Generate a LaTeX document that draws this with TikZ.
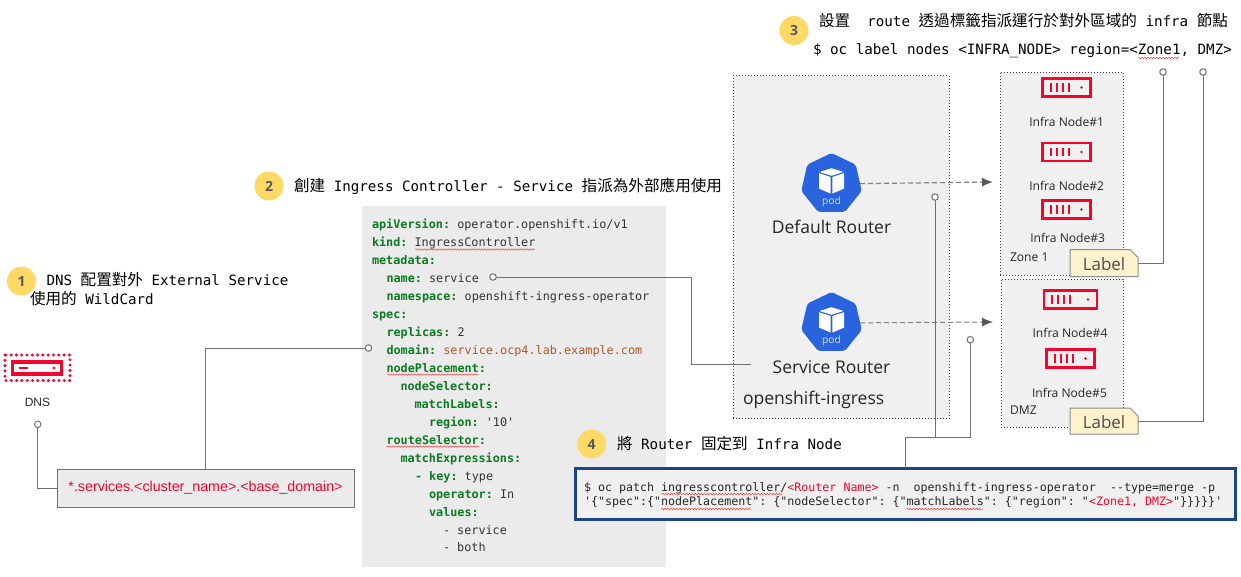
\documentclass[tikz,border=0pt]{standalone}
\usepackage{fontspec}
\usepackage{tikz}
\usetikzlibrary{shapes.geometric,shapes.misc,decorations.pathmorphing,arrows.meta}
\setmainfont{Open Sans}
\setmonofont{DejaVu Sans Mono}
\newfontfamily\armfont{Liberation Sans}
\newfontfamily\cjkfont{Noto Sans CJK TC}
\newcommand{\cj}[1]{{\cjkfont\fontsize{15.6}{17}\selectfont #1}}
\newcommand{\yk}[1]{\textcolor{yamlkey}{\textbf{#1}}}
\newcommand{\rd}[1]{\textcolor{rhred}{#1}}
\definecolor{rhred}{HTML}{F5052C}
\definecolor{yamlkey}{HTML}{0B7A20}
\definecolor{yamlval}{HTML}{B0562C}
\definecolor{yamltxt}{HTML}{333333}
\definecolor{panelgray}{HTML}{F0F0F0}
\definecolor{codegray}{HTML}{EBEBEB}
\definecolor{linegray}{HTML}{707070}
\definecolor{badgeyellow}{HTML}{FFD966}
\definecolor{labelyellow}{HTML}{FFF2CC}
\definecolor{podblue}{HTML}{2A63DE}
\definecolor{patchblue}{HTML}{1C4587}
\tikzset{
  headline/.style={anchor=base west,font=\ttfamily\fontsize{14.2}{17}\selectfont},
  yamlline/.style={anchor=base west,text=yamltxt,font=\ttfamily\fontsize{11.8}{14}\selectfont},
  patchline/.style={anchor=base west,text=black!85,font=\ttfamily\fontsize{11.65}{14}\selectfont},
  badge/.style={circle,fill=badgeyellow,minimum size=29pt,text=black!65,font=\bfseries\fontsize{14}{16}\selectfont},
  panel/.style={rectangle,draw=black!75,fill=panelgray,dash pattern=on 1pt off 2pt,line width=1pt},
  routername/.style={text=black!85,font=\fontsize{17.5}{20}\selectfont},
  infraname/.style={text=black!85,font=\fontsize{12.1}{14}\selectfont},
  zonename/.style={anchor=west,text=black!85,font=\fontsize{12.1}{14}\selectfont},
  labeltag/.style={chamfered rectangle,chamfered rectangle corners=north east,chamfered rectangle sep=4pt,
    draw=black!45,fill=labelyellow,line width=1pt,minimum width=68pt,minimum height=27pt,text=black!70,
    text depth=0pt,font=\fontsize{17}{18}\selectfont},
  poddisc/.style={regular polygon,regular polygon sides=7,minimum size=62pt,fill=podblue,rounded corners=2pt},
  srvbox/.style={rectangle,draw=rhred,line width=2.6pt,fill=panelgray,minimum height=18pt},
  srvtick/.style={rhred,line width=2pt},
  conn/.style={linegray,line width=0.9pt},
  smalldot/.style={circle,draw=linegray,fill=white,line width=1pt,minimum size=6.5pt},
  tagline/.style={draw=black!50,dashed,line width=1.2pt,dash pattern=on 5pt off 3pt,-{Latex[length=11pt,width=9pt,black!65]}},
  squig/.style={draw=red!75!white,line width=0.5pt,decorate,decoration={snake,amplitude=0.7pt,segment length=3pt}},
  podicon/.pic={
    \fill[white] (0,-15.8) -- (12,-12) -- (0,-8.2) -- (-12,-12) -- cycle;
    \fill[white] (-12.5,-10.8) -- (-0.8,-7) -- (-0.8,9.6) -- (-12.5,4.6) -- cycle;
    \fill[white] (12.5,-10.8) -- (0.8,-7) -- (0.8,9.6) -- (12.5,4.6) -- cycle;
    \node[text=white!80!podblue,font=\fontsize{10.2}{11}\selectfont] at (0,18) {pod};
  }
}
\newcommand{\serverbox}[4]{
  \node[srvbox,minimum width=#4pt] (#1) at (#2,#3) {};
  \foreach \t in {8,14,20,26}
    \draw[srvtick] ([xshift=\t pt,yshift=4.2pt]#1.west) -- ([xshift=\t pt,yshift=-4.2pt]#1.west);
  \fill[rhred] ([xshift=-9pt]#1.east) circle (1.3);
}
\begin{document}
\begin{tikzpicture}[x=1pt,y=-1pt]
  \tikzstyle{every node}+=[inner sep=0pt,outer sep=0pt]
  \useasboundingbox (0,0) rectangle (1241,576);

  \node[rectangle,fill=codegray,minimum width=304pt,minimum height=361pt] (yamlbox) at (514,386.5) {};
  \node[panel,minimum width=216pt,minimum height=343pt] (ingressbox) at (841,247) {};
  \node[panel,minimum width=123pt,minimum height=203pt] (zoneone) at (1061.5,173.5) {};
  \node[panel,minimum width=122pt,minimum height=148pt] (zonedmz) at (1062,353) {};

  % step 1
  \node[badge] (badgeone) at (21.5,281) {1};
  \node[headline] (textone) at (46.5,285) {DNS \cj{配置對外} External Service};
  \node[headline] (textoneb) at (30,304) {\cj{使用的} WildCard};
  \draw[rhred,line width=3.4pt,line cap=round,dash pattern=on 0pt off 5.3pt] (5,355) rectangle (70,380.5);
  \node[rectangle,draw=rhred,line width=3.2pt,minimum width=49pt,minimum height=12pt] (dnsicon) at (37,368) {};
  \draw[rhred,line width=2.6pt] ([xshift=6pt]dnsicon.west) -- ([xshift=15pt]dnsicon.west);
  \fill[rhred] ([xshift=-7.5pt]dnsicon.east) circle (1.7);
  \node[font=\armfont\fontsize{12}{14}\selectfont,text=black!85] (dnstext) at (37.5,402.5) {DNS};
  \node[smalldot] (dnsdot) at (37.7,424.3) {};
  \node[rectangle,draw=linegray,fill=codegray,line width=1pt,minimum width=297pt,minimum height=38pt,
    text=rhred,font=\armfont\fontsize{14.25}{17}\selectfont] (wildbox) at (205.5,488)
    {*.services.<cluster\_name>.<base\_domain>};
  \node[smalldot] (domaindot) at (368.5,348) {};
  \draw[conn] (dnsdot) |- (wildbox);
  \draw[conn] (wildbox) |- (domaindot);

  % step 2
  \node[badge] (badgetwo) at (269,186) {2};
  \node[headline] (texttwo) at (294,191) {\cj{創建} Ingress Controller - Service \cj{指派為外部應用使用}};
  \node[yamlline] (yamla) at (372,228) {\yk{apiVersion:} operator.openshift.io/v1};
  \node[yamlline] (yamlb) at (372,246) {\yk{kind:} IngressController};
  \node[yamlline] (yamlc) at (372,264) {\yk{metadata:}};
  \node[yamlline] (yamld) at (386.5,282) {\yk{name:} service};
  \node[yamlline] (yamle) at (386.5,300) {\yk{namespace:} openshift-ingress-operator};
  \node[yamlline] (yamlf) at (372,318) {\yk{spec:}};
  \node[yamlline] (yamlg) at (386.5,336) {\yk{replicas:} 2};
  \node[yamlline] (yamlh) at (386.5,354) {\yk{domain:} \textcolor{yamlval}{service.ocp4.lab.example.com}};
  \node[yamlline] (yamli) at (386.5,372) {\yk{nodePlacement:}};
  \node[yamlline] (yamlj) at (400.5,390) {\yk{nodeSelector:}};
  \node[yamlline] (yamlk) at (414.5,408) {\yk{matchLabels:}};
  \node[yamlline] (yamll) at (429,426) {\yk{region:} '10'};
  \node[yamlline] (yamlm) at (386.5,444) {\yk{routeSelector:}};
  \node[yamlline] (yamln) at (400.5,462) {\yk{matchExpressions:}};
  \node[yamlline] (yamlo) at (415,480) {\yk{- key:} type};
  \node[yamlline] (yamlp) at (429,498) {\yk{operator:} In};
  \node[yamlline] (yamlq) at (429,516) {\yk{values:}};
  \node[yamlline] (yamlr) at (443,534) {- service};
  \node[yamlline] (yamls) at (443,551) {- both};
  \draw[squig] (415,249.5) -- (535,249.5);
  \draw[squig] (387,374.5) -- (478,374.5);
  \draw[squig] (386,446.5) -- (479,446.5);
  \node[smalldot] (namedot) at (493,277) {};
  \coordinate (nameelbow) at (691,277);
  \coordinate (svctip) at (751,364);
  \draw[conn] (namedot) -- (nameelbow) |- (svctip);

  % routers
  \node[poddisc] (defpod) at (831.5,184) {};
  \pic at (defpod) {podicon};
  \node[routername] (defname) at (831.5,227) {Default Router};
  \node[poddisc] (svcpod) at (831.5,323) {};
  \pic at (svcpod) {podicon};
  \node[routername] (svcname) at (831.5,367) {Service Router};
  \node[routername,anchor=west] (ingressname) at (743,399.5) {openshift-ingress};
  \coordinate (deftip) at (993,182);
  \coordinate (svctag) at (993,322);
  \draw[tagline] (defpod) -- (deftip);
  \draw[tagline,line width=1pt] (svcpod) -- (svctag);

  % infra nodes
  \serverbox{srva}{1066.5}{87.5}{48}
  \serverbox{srvb}{1066.5}{152}{48}
  \serverbox{srvc}{1066.5}{209.5}{48}
  \serverbox{srvd}{1070.5}{299.5}{53}
  \serverbox{srve}{1070.5}{358.5}{48}
  \node[infraname] (infraa) at (1066.7,121.7) {Infra Node\#1};
  \node[infraname] (infrab) at (1066.7,185.7) {Infra Node\#2};
  \node[infraname] (infrac) at (1067.7,237.7) {Infra Node\#3};
  \node[infraname] (infrad) at (1070,333.3) {Infra Node\#4};
  \node[infraname] (infrae) at (1069.5,392.7) {Infra Node\#5};
  \node[zonename] (zonea) at (1010,257.7) {Zone 1};
  \node[zonename] (zoneb) at (1010,410.3) {DMZ};
  \node[labeltag] (labela) at (1104,263) {\raisebox{-1.5pt}{Label}};
  \node[labeltag,minimum height=26pt] (labelb) at (1104,421) {\raisebox{-1.5pt}{Label}};

  % step 3
  \node[badge] (badgethree) at (794,30.5) {3};
  \node[headline] (textthree) at (819,26) {\cj{設置}\ \ route \cj{透過標籤指派運行於對外區域的} infra \cj{節點}};
  \node[headline] (textthreeb) at (813,54.5) {\$ oc label nodes <INFRA\_NODE> region=<Zone1, DMZ>};
  \draw[squig] (1138,58) -- (1179,58);
  \node[smalldot] (labeladot) at (1163,72) {};
  \node[smalldot] (labelbdot) at (1203,72) {};
  \draw[conn] (labela) -| (labeladot);
  \draw[conn] (labelb) -| (labelbdot);

  % step 4
  \node[badge] (badgefour) at (591.7,444) {4};
  \node[headline] (textfour) at (617,449) {\cj{將} Router \cj{固定到} Infra Node};
  \node[rectangle,draw=patchblue,fill=panelgray,line width=3pt,minimum width=660pt,minimum height=51pt] (patchbox) at (905,493.5) {};
  \node[patchline] (patcha) at (584,491) {\$ oc patch ingresscontroller/\rd{<Router Name>} -n\ \ openshift-ingress-operator\ \ --type=merge -p};
  \node[patchline] (patchb) at (584,505.5) {'\{"spec":\{"nodePlacement": \{"nodeSelector": \{"matchLabels": \{"region": "\rd{<Zone1, DMZ>}"\}\}\}\}\}'};
  \draw[squig] (661.5,494) -- (782,494);
  \draw[squig] (661,509) -- (751,509);
  \draw[squig] (906.5,509) -- (983,509);
  \node[smalldot] (rtdot) at (935,197) {};
  \node[smalldot] (svcdot) at (970.3,339.7) {};
  \coordinate (patchelbow) at (905,437.5);
  \draw[conn] (patchbox) -- (patchelbow) -| (svcdot);
  \draw[conn] (patchelbow) -| (rtdot);
\end{tikzpicture}
\end{document}
